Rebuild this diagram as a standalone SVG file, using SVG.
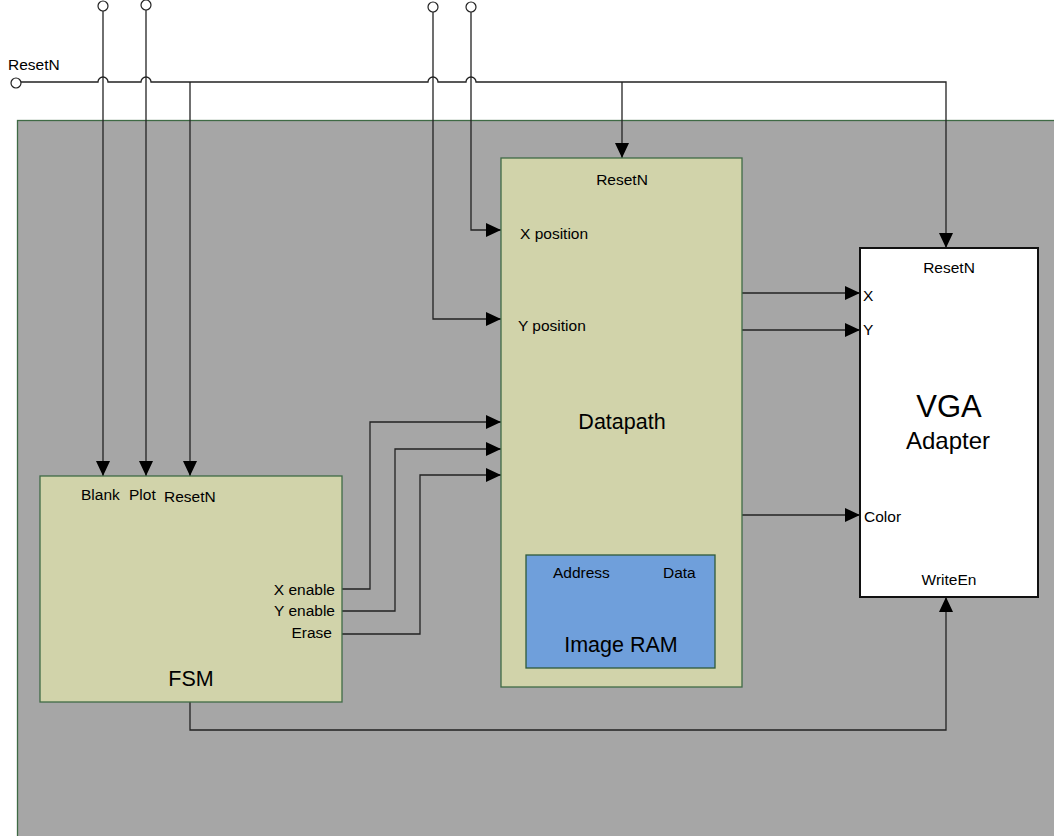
<svg xmlns="http://www.w3.org/2000/svg" width="1054" height="836" viewBox="0 0 1054 836">
<style>
text{font-family:"Liberation Sans",Arial,sans-serif;fill:#000}
.s{font-size:15.5px}
.b{font-size:21.5px}
.w{fill:none;stroke:#222;stroke-width:1.3}
.blk{fill:#d1d3aa;stroke:#3f6a45;stroke-width:1.3}
</style>
<defs>
<marker id="ah" markerWidth="15" markerHeight="14" refX="15" refY="7" orient="auto" markerUnits="userSpaceOnUse">
<path d="M0,0 L15,7 L0,14 Z" fill="#000"/>
</marker>
</defs>
<rect x="0" y="0" width="1054" height="836" fill="#fff"/>
<rect id="board" x="17.5" y="120.5" width="1045" height="730" fill="#a6a6a6" stroke="#3f6a45" stroke-width="1.3"/>

<g id="connectors">
<path class="w" d="M21,82 H98 A5,5 0 0 1 108,82 H141 A5,5 0 0 1 151,82 H428 A5,5 0 0 1 438,82 H466 A5,5 0 0 1 476,82 H946 V248" marker-end="url(#ah)"/>
<path class="w" d="M190,82 V476" marker-end="url(#ah)"/>
<path class="w" d="M622,82 V158" marker-end="url(#ah)"/>
<path class="w" d="M103,11 V476" marker-end="url(#ah)"/>
<path class="w" d="M146,10 V476" marker-end="url(#ah)"/>
<path class="w" d="M433,12 V319 H501" marker-end="url(#ah)"/>
<path class="w" d="M471,12 V230 H501" marker-end="url(#ah)"/>
<path class="w" d="M342,589 H370 V422 H501" marker-end="url(#ah)"/>
<path class="w" d="M342,611 H395 V449 H501" marker-end="url(#ah)"/>
<path class="w" d="M342,634 H420 V475 H501" marker-end="url(#ah)"/>
<path class="w" d="M742,293 H860" marker-end="url(#ah)"/>
<path class="w" d="M742,330 H860" marker-end="url(#ah)"/>
<path class="w" d="M742,515 H860" marker-end="url(#ah)"/>
<path class="w" d="M190,702 V730 H946 V597" marker-end="url(#ah)"/>
</g>

<g id="terminals" fill="#fff" stroke="#222" stroke-width="1.2">
<circle id="t-resetn" cx="16" cy="83" r="5"/>
<circle id="t-blank" cx="103" cy="6" r="5"/>
<circle id="t-plot" cx="146" cy="5" r="5"/>
<circle id="t-ypos" cx="433" cy="7" r="5"/>
<circle id="t-xpos" cx="471" cy="7" r="5"/>
</g>
<text class="s" x="8" y="70">ResetN</text>

<g id="fsm">
<rect class="blk" x="40" y="476" width="302" height="226"/>
<text class="s" x="81" y="500">Blank</text>
<text class="s" x="129" y="500">Plot</text>
<text class="s" x="164" y="502">ResetN</text>
<text class="s" x="335" y="595" text-anchor="end">X enable</text>
<text class="s" x="335" y="616" text-anchor="end">Y enable</text>
<text class="s" x="332" y="638" text-anchor="end">Erase</text>
<text class="b" x="191" y="686" text-anchor="middle">FSM</text>
</g>

<g id="datapath">
<rect class="blk" x="501" y="158" width="241" height="529"/>
<text class="s" x="622" y="185" text-anchor="middle">ResetN</text>
<text class="s" x="520" y="239">X position</text>
<text class="s" x="518" y="331">Y position</text>
<text class="b" x="622" y="429" text-anchor="middle">Datapath</text>
</g>

<g id="image-ram">
<rect x="526" y="555" width="189" height="113" fill="#6f9fdb" stroke="#2e5a3a" stroke-width="1.3"/>
<text class="s" x="553" y="578">Address</text>
<text class="s" x="663" y="578">Data</text>
<text class="b" x="621" y="652" text-anchor="middle">Image RAM</text>
</g>

<g id="vga">
<rect x="860" y="248" width="178" height="349" fill="#fff" stroke="#111" stroke-width="2"/>
<text class="s" x="949" y="273" text-anchor="middle">ResetN</text>
<text class="s" x="863" y="301">X</text>
<text class="s" x="863" y="335">Y</text>
<text class="s" x="864" y="522">Color</text>
<text class="s" x="949" y="585" text-anchor="middle">WriteEn</text>
<text x="949" y="417" text-anchor="middle" font-size="31">VGA</text>
<text x="948" y="449" text-anchor="middle" font-size="24">Adapter</text>
</g>
</svg>
